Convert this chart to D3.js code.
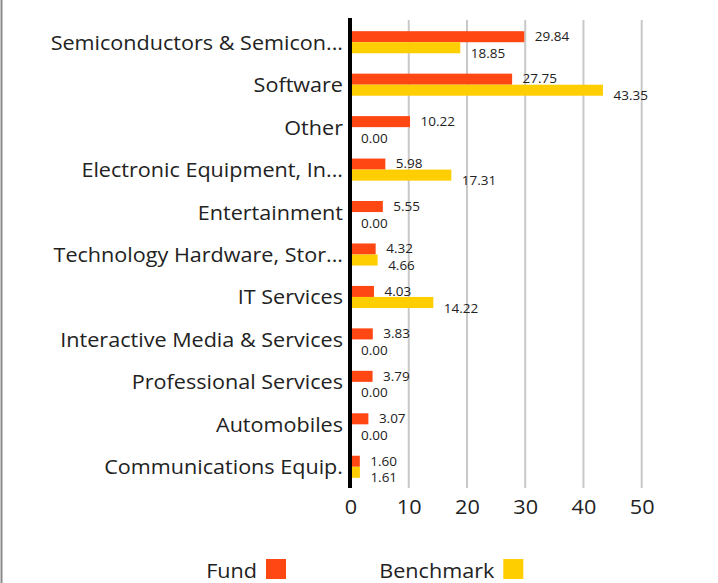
<!DOCTYPE html>
<html>
<head>
<meta charset="utf-8">
<script src="https://cdn.jsdelivr.net/npm/d3@7"></script>
<style>
    body { margin: 0; background: #fff; }
    svg { display: block; font-family: "Open Sans", sans-serif; }
</style>
</head>
<body>
<div id="chart"></div>
<script>
    // data
    var categories = ["Semiconductors & Semicon...", "Software", "Other", "Electronic Equipment, In...",
        "Entertainment", "Technology Hardware, Stor...", "IT Services", "Interactive Media & Services",
        "Professional Services", "Automobiles", "Communications Equip."];
    var fund = [29.84, 27.75, 10.22, 5.98, 5.55, 4.32, 4.03, 3.83, 3.79, 3.07, 1.60];
    var benchmark = [18.85, 43.35, 0.00, 17.31, 0.00, 4.66, 14.22, 0.00, 0.00, 0.00, 1.61];
    var xTicks = [0, 10, 20, 30, 40, 50];
    var seriesNames = ["Fund", "Benchmark"];
    var colors = ["#FF4713", "#FFCE00"];

    var W = 718, H = 583;
    var wide = 1.08; // the original font is a bit wider than Open Sans

    var svg = d3.select("#chart").append("svg")
        .attr("width", W).attr("height", H);

    // left frame line
    svg.append("line")
        .attr("x1", 1.5).attr("x2", 1.5).attr("y1", 0).attr("y2", H)
        .attr("stroke", "#8a8a8a").attr("stroke-width", 2);

    var x = d3.scaleLinear().domain([0, 50]).range([350.5, 641.7]);
    var y = d3.scaleBand().domain(categories).range([21, 488])
        .paddingInner(0.48).paddingOuter(0.24);
    var ys = d3.scaleBand().domain(seriesNames).range([0, y.bandwidth()]);

    // grid
    svg.append("g").selectAll("line")
        .data(xTicks.filter(function (d) { return d > 0; }))
        .enter().append("line")
        .attr("x1", function (d) { return x(d); })
        .attr("x2", function (d) { return x(d); })
        .attr("y1", 20).attr("y2", 488)
        .attr("stroke", "#c8c8c8").attr("stroke-width", 2);

    var rows = categories.map(function (c, i) {
        return { cat: c, values: [fund[i], benchmark[i]] };
    });

    var g = svg.append("g").selectAll("g")
        .data(rows).enter().append("g")
        .attr("transform", function (d) { return "translate(0," + y(d.cat) + ")"; });

    g.selectAll("rect")
        .data(function (d) { return d.values; })
        .enter().append("rect")
        .attr("x", x(0))
        .attr("y", function (d, j) { return ys(seriesNames[j]); })
        .attr("width", function (d) { return x(d) - x(0); })
        .attr("height", ys.bandwidth())
        .attr("fill", function (d, j) { return colors[j]; });

    // value labels
    g.selectAll("text.val")
        .data(function (d) { return d.values; })
        .enter().append("text")
        .attr("class", "val")
        .attr("x", function (d) { return x(d) + 10.5; })
        .attr("y", function (d, j) {
            return ys(seriesNames[j]) + ys.bandwidth() + (j === 0 ? -1.2 : 4.6);
        })
        .attr("font-size", 13.5)
        .attr("fill", "#222")
        .text(function (d) { return d.toFixed(2); });

    // category labels
    g.append("text")
        .attr("transform", "translate(343," + (y.bandwidth() / 2 + 7.5) + ") scale(" + wide + ",1)")
        .attr("text-anchor", "end")
        .attr("font-size", 20)
        .attr("fill", "#222")
        .text(function (d) { return d.cat; });

    // y axis line
    svg.append("line")
        .attr("x1", 350).attr("x2", 350).attr("y1", 18).attr("y2", 488)
        .attr("stroke", "#000").attr("stroke-width", 4);

    // x axis tick labels
    var xAxis = svg.append("g")
        .attr("transform", "translate(0,488)")
        .call(d3.axisBottom(x).tickValues(xTicks).tickSize(0).tickPadding(0));
    xAxis.select(".domain").remove();
    xAxis.selectAll("text")
        .attr("dy", null)
        .attr("y", 26.3)
        .attr("transform", "scale(1.11,1)")
        .attr("font-size", 19.5)
        .attr("font-family", "Open Sans, sans-serif")
        .attr("fill", "#222");

    // legend
    var legend = svg.append("g");
    var legX = [266, 503.3];
    seriesNames.forEach(function (s, j) {
        legend.append("rect")
            .attr("x", legX[j]).attr("y", 559)
            .attr("width", 20).attr("height", 20)
            .attr("fill", colors[j]);
        legend.append("text")
            .attr("transform", "translate(" + (legX[j] - 9) + ",578.3) scale(" + wide + ",1)")
            .attr("text-anchor", "end")
            .attr("font-size", 20)
            .attr("fill", "#222")
            .text(s);
    });
</script>
</body>
</html>
